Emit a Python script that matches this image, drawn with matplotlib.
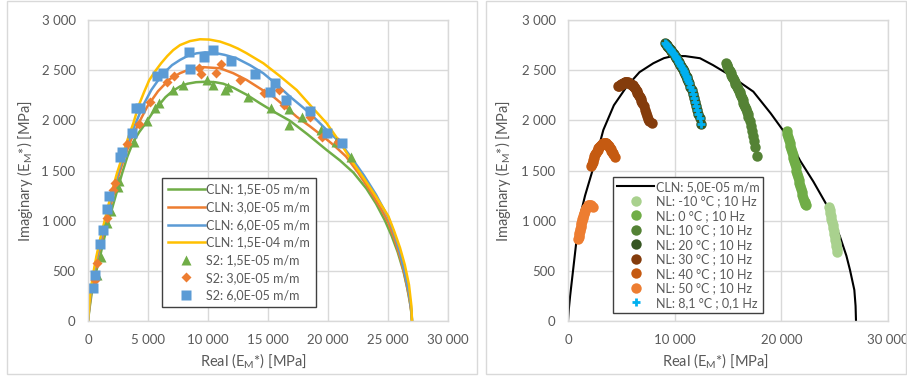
"""Cole-Cole plots (E* imaginary vs real), CLN model vs measurements"""
import matplotlib
matplotlib.use("Agg")
import matplotlib.pyplot as plt
from matplotlib.patches import Rectangle
from matplotlib.ticker import FuncFormatter

plt.rcParams['font.family'] = ['Lato', 'DejaVu Sans']
plt.rcParams['mathtext.default'] = 'regular'

# ---- left chart: CLN curves (real, imaginary) in MPa
cln15_re = [0, 120, 347, 650, 1000, 1300, 1667, 2050, 2444, 2850, 3278, 3750, 4250, 4806, 5350, 5900, 6450,
            7028, 7700, 8300, 9000, 9889, 10600, 11278, 12111, 13222, 14333, 15500, 16833, 18300, 19889,
            21000, 22111, 23200, 24000, 24750, 25300, 25800, 26278, 26600, 26850, 26970, 27000]
cln15_im = [0, 120, 309, 480, 641, 800, 974, 1140, 1306, 1475, 1638, 1780, 1880, 1971, 2070, 2150, 2230,
            2290, 2340, 2365, 2380, 2385, 2380, 2365, 2325, 2255, 2170, 2085, 1995, 1860, 1704,
            1600, 1480, 1320, 1170, 1000, 850, 690, 500, 330, 170, 60, 0]
cln30_re = [0, 100, 280, 520, 820, 1150, 1500, 1850, 2222, 2620, 3056, 3600, 4222, 4950, 5833, 6800, 7667,
            8600, 9611, 11000, 12100, 13222, 14300, 15444, 16400, 17389, 18500, 19611, 20500, 21500, 22500,
            23500, 24500, 25028, 25500, 26000, 26400, 26750, 26950, 27000]
cln30_im = [0, 120, 300, 470, 641, 810, 974, 1140, 1306, 1475, 1638, 1810, 1971, 2140, 2290, 2410, 2470,
            2515, 2530, 2519, 2470, 2402, 2320, 2236, 2140, 2036, 1940, 1837, 1750, 1640, 1480,
            1300, 1100, 980, 830, 640, 450, 250, 90, 0]
cln60_re = [0, 90, 250, 480, 750, 1060, 1400, 1750, 2111, 2510, 2944, 3430, 3972, 4600, 5278, 5850, 6400,
            7000, 7667, 8350, 9056, 9750, 10444, 11400, 12389, 13500, 14611, 15700, 16833, 18000, 19000,
            19889, 21000, 22000, 23000, 24000, 25028, 25500, 26000, 26400, 26750, 26960, 27000]
cln60_im = [0, 120, 300, 470, 641, 810, 974, 1140, 1306, 1475, 1638, 1810, 1971, 2150, 2303, 2400, 2480,
            2550, 2602, 2645, 2668, 2678, 2675, 2652, 2618, 2550, 2469, 2360, 2236, 2120, 2010,
            1904, 1780, 1620, 1450, 1260, 1030, 880, 680, 480, 280, 100, 0]
cln150_re = [0, 80, 222, 430, 694, 1000, 1333, 1670, 2028, 2420, 2861, 3300, 3778, 4200, 4667, 5100, 5600,
             6100, 6600, 7100, 7667, 8500, 9333, 10111, 11000, 11833, 12500, 13200, 14611, 16000, 17389,
             18600, 19889, 21000, 22111, 23000, 24000, 25028, 25500, 26000, 26400, 26750, 26950, 27000]
cln150_im = [0, 120, 309, 470, 641, 810, 974, 1140, 1306, 1475, 1638, 1810, 1971, 2140, 2280, 2400, 2490,
             2570, 2640, 2700, 2750, 2790, 2808, 2805, 2785, 2750, 2715, 2670, 2569, 2440, 2302,
             2140, 1971, 1780, 1572, 1420, 1240, 1045, 900, 730, 560, 360, 150, 0]

# ---- left chart: S2 measurements
s2_15_re = [778, 1056, 1611, 1889, 2528, 2583, 3833, 4944, 5583, 5944, 7111, 7944, 9917, 10389, 11417,
            11639, 13361, 15222, 16722, 16778, 17861, 19389, 20694, 21917]
s2_15_im = [458, 641, 974, 1096, 1339, 1399, 1787, 1993, 2126, 2170, 2302, 2352, 2402, 2352, 2302,
            2329, 2229, 2120, 1953, 2110, 2037, 1904, 1786, 1638]
s2_30_re = [583, 778, 1611, 2083, 2250, 3250, 4250, 5125, 6611, 7167, 9278, 9417, 10639, 11056, 12694,
            14694, 15917, 16333, 18500, 19472, 20833]
s2_30_im = [409, 578, 1030, 1305, 1380, 1768, 1965, 2180, 2385, 2442, 2525, 2462, 2475, 2565, 2402,
            2269, 2299, 2150, 2030, 1831, 1784]
s2_60_re = [417, 611, 972, 1278, 1611, 1778, 2639, 2806, 3667, 4028, 4306, 5778, 6278, 8500, 8389,
            9667, 10417, 11917, 13889, 15583, 15194, 16528, 18472, 19944, 21139]
s2_60_im = [333, 456, 768, 911, 1121, 1250, 1630, 1680, 1876, 2125, 2125, 2441, 2468, 2511, 2677,
            2634, 2700, 2591, 2461, 2368, 2278, 2198, 2092, 1870, 1771]

# ---- right chart: CLN 5,0E-05 curve
cln50_re = [0, 80, 200, 470, 750, 1034, 1600, 2219, 2800, 3313, 4300, 5500, 6700, 8000, 9000, 9875, 11000,
            12375, 13600, 14875, 16100, 17375, 19000, 20500, 21750, 23000, 24250, 25500, 26100, 26438,
            26844, 26960, 27000]
cln50_im = [0, 120, 250, 500, 760, 1000, 1250, 1472, 1700, 1904, 2150, 2336, 2480, 2569, 2620, 2642, 2640,
            2619, 2550, 2469, 2380, 2286, 2070, 1850, 1600, 1390, 1157, 840, 650, 508,
            309, 150, 0]

# ---- right chart: NL measurements
nl_m10_re = [24500, 24550, 24600, 24650, 24700, 24750, 24800, 24850, 24900, 24950, 25000, 25050, 25100,
             25150, 25200, 25250]
nl_m10_im = [1140, 1110, 1080, 1050, 1020, 990, 960, 930, 900, 870, 840, 810, 780, 750, 720, 690]
nl_0_re = [20500, 20570, 20640, 20710, 20780, 20850, 20920, 20990, 21060, 21130, 21200, 21270, 21340, 21410,
           21480, 21550, 21620, 21690, 21760, 21830, 21900, 21970, 22040, 22110, 22180, 22250, 22320]
nl_0_im = [1890, 1860, 1830, 1800, 1770, 1740, 1710, 1680, 1650, 1620, 1590, 1560, 1530, 1500,
           1470, 1440, 1410, 1380, 1350, 1320, 1290, 1260, 1230, 1200, 1185, 1170, 1160]
nl_10_re = [14810, 14880, 14950, 15020, 15100, 15170, 15250, 15320, 15400, 15480, 15550, 15620, 15700, 15780,
            15850, 15920, 16000, 16080, 16150, 16220, 16300, 16380, 16450, 16530, 16600, 16680, 16750, 16830,
            16900, 17020, 17130, 17230, 17330, 17420, 17530, 17750]
nl_10_im = [2570, 2555, 2540, 2522, 2505, 2488, 2470, 2452, 2435, 2418, 2400, 2382, 2365, 2348,
            2330, 2312, 2295, 2278, 2262, 2242, 2220, 2198, 2175, 2152, 2130, 2108, 2085, 2060,
            2035, 1990, 1940, 1890, 1840, 1790, 1738, 1645]
nl_20_re = [9100, 9170, 9250, 9320, 9400, 9470, 9550, 9620, 9700, 9770, 9850, 9920, 10000, 10080, 10150,
            10230, 10300, 10380, 10450, 10530, 10600, 10680, 10750, 10830, 10900, 10980, 11050, 11120,
            11200, 11280, 11350, 11480, 11600, 11720, 11830, 11930, 12030, 12130, 12230, 12330, 12470]
nl_20_im = [2768, 2759, 2750, 2740, 2730, 2720, 2710, 2700, 2690, 2680, 2668, 2657, 2645, 2632, 2620,
            2608, 2595, 2582, 2568, 2554, 2540, 2525, 2510, 2495, 2480, 2462, 2445, 2428,
            2410, 2390, 2370, 2335, 2300, 2260, 2220, 2180, 2140, 2100, 2060, 2020, 1965]
nl_30_re = [4700, 4780, 4850, 4930, 5000, 5080, 5150, 5230, 5300, 5380, 5450, 5530, 5600, 5680, 5750, 5830,
            5900, 5980, 6050, 6130, 6200, 6280, 6350, 6430, 6500, 6580, 6650, 6730, 6800, 6880, 6950, 7080,
            7200, 7320, 7430, 7530, 7620, 7840]
nl_30_im = [2340, 2346, 2352, 2357, 2362, 2367, 2372, 2375, 2378, 2379, 2380, 2379, 2378, 2374, 2370, 2365,
            2360, 2354, 2348, 2339, 2330, 2318, 2305, 2290, 2275, 2260, 2245, 2228, 2210, 2192, 2175, 2140,
            2105, 2075, 2045, 2015, 1995, 1970]
nl_40_re = [2200, 2250, 2300, 2360, 2420, 2480, 2550, 2620, 2700, 2770, 2850, 2920, 3000, 3080, 3150, 3230,
            3300, 3380, 3450, 3530, 3600, 3680, 3750, 3820, 3880, 3940, 4000, 4060, 4120, 4190, 4250, 4400]
nl_40_im = [1540, 1560, 1580, 1600, 1620, 1640, 1660, 1678, 1695, 1709, 1722, 1734, 1745, 1754, 1762, 1767,
            1772, 1774, 1775, 1773, 1770, 1763, 1755, 1745, 1735, 1722, 1710, 1698, 1685, 1672, 1660, 1638]
nl_50_re = [950, 985, 1020, 1060, 1100, 1140, 1180, 1220, 1260, 1300, 1340, 1385, 1430, 1480, 1530, 1585,
            1640, 1700, 1760, 1830, 1900, 1975, 2050, 2125, 2200, 2330]
nl_50_im = [820, 840, 860, 880, 900, 920, 940, 960, 980, 998, 1015, 1030, 1045, 1062, 1080, 1095,
            1110, 1122, 1135, 1145, 1155, 1157, 1158, 1155, 1150, 1140]
nl_81_re = [9100, 9170, 9250, 9320, 9400, 9470, 9550, 9620, 9700, 9770, 9850, 9920, 10000, 10080, 10150,
            10230, 10300, 10380, 10450, 10530, 10600, 10680, 10750, 10830, 10900, 10980, 11050, 11120,
            11200, 11280, 11350, 11480, 11600, 11720, 11830, 11930, 12030, 12130, 12230, 12330, 12470]
nl_81_im = [2768, 2759, 2750, 2740, 2730, 2720, 2710, 2700, 2690, 2680, 2668, 2657, 2645, 2632, 2620,
            2608, 2595, 2582, 2568, 2554, 2540, 2525, 2510, 2495, 2480, 2462, 2445, 2428,
            2410, 2390, 2370, 2335, 2300, 2260, 2220, 2180, 2140, 2100, 2060, 2020, 1965]

x_ticks_left = [0, 5000, 10000, 15000, 20000, 25000, 30000]
x_ticks_right = [0, 10000, 20000, 30000]
y_ticks = [0, 500, 1000, 1500, 2000, 2500, 3000]

TXT = '#595959'
GRID = '#D9D9D9'


def thousands(v, pos):
    return f"{int(v):,}".replace(',', ' ')


def style(ax, xticks):
    ax.set_xlim(0, 30000)
    ax.set_ylim(0, 3000)
    ax.set_xticks(xticks)
    ax.set_yticks(y_ticks)
    ax.xaxis.set_major_formatter(FuncFormatter(thousands))
    ax.yaxis.set_major_formatter(FuncFormatter(thousands))
    ax.grid(True, color=GRID, lw=1.0)
    ax.set_axisbelow(True)
    for s in ax.spines.values():
        s.set_color(GRID)
        s.set_linewidth(1.0)
    ax.tick_params(length=0, labelsize=9.5, labelcolor=TXT, pad=9)
    ax.set_xlabel('Real (E$_{M}$*) [MPa]', fontsize=10.5, color=TXT)
    ax.set_ylabel('Imaginary (E$_{M}$*) [MPa]', fontsize=10.5, color=TXT)


fig = plt.figure(figsize=(9.07, 3.78), dpi=100)

# panel frames
fig.patches.append(Rectangle((7 / 907, 4 / 378), 470 / 907, 373 / 378, transform=fig.transFigure,
                             fill=False, edgecolor=GRID, lw=1.0))
fig.patches.append(Rectangle((486 / 907, 4 / 378), 420 / 907, 373 / 378, transform=fig.transFigure,
                             fill=False, edgecolor=GRID, lw=1.0))

# left chart
ax1 = fig.add_axes([88 / 907, 57 / 378, 360 / 907, 301 / 378])
style(ax1, x_ticks_left)
ax1.plot(cln15_re, cln15_im, color='#70AD47', lw=1.8, label='CLN: 1,5E-05 m/m')
ax1.plot(cln30_re, cln30_im, color='#ED7D31', lw=1.8, label='CLN: 3,0E-05 m/m')
ax1.plot(cln60_re, cln60_im, color='#5B9BD5', lw=1.8, label='CLN: 6,0E-05 m/m')
ax1.plot(cln150_re, cln150_im, color='#FFC000', lw=1.8, label='CLN: 1,5E-04 m/m')
ax1.plot(s2_15_re, s2_15_im, '^', color='#70AD47', ms=7, mec='none', label='S2: 1,5E-05 m/m')
ax1.plot(s2_30_re, s2_30_im, 'D', color='#ED7D31', ms=5.5, mec='none', label='S2: 3,0E-05 m/m')
ax1.plot(s2_60_re, s2_60_im, 's', color='#5B9BD5', ms=7, mec='none', label='S2: 6,0E-05 m/m')
ax1.xaxis.set_label_coords(0.46, -0.1)
ax1.yaxis.set_label_coords(-0.147, 0.5)
leg1 = ax1.legend(loc='upper left', bbox_to_anchor=(162 / 907, 1 - 178 / 378),
                  bbox_transform=fig.transFigure, borderaxespad=0, fontsize=9,
                  labelspacing=0.45, handlelength=3.0, handletextpad=0.1, borderpad=0.45,
                  fancybox=False, framealpha=1, edgecolor='#404040')
leg1.get_frame().set_linewidth(1.0)
for t in leg1.get_texts():
    t.set_color(TXT)

# right chart
ax2 = fig.add_axes([568 / 907, 57 / 378, 320 / 907, 301 / 378])
style(ax2, x_ticks_right)
ax2.plot(cln50_re, cln50_im, color='black', lw=1.5, label='CLN: 5,0E-05 m/m', zorder=2)
ms = 7.5
ax2.plot(nl_m10_re, nl_m10_im, 'o', color='#A9D18E', ms=ms, mec='none', label='NL: -10 °C ; 10 Hz', zorder=3)
ax2.plot(nl_0_re, nl_0_im, 'o', color='#70AD47', ms=ms, mec='none', label='NL: 0 °C ; 10 Hz', zorder=3)
ax2.plot(nl_10_re, nl_10_im, 'o', color='#548235', ms=ms, mec='none', label='NL: 10 °C ; 10 Hz', zorder=3)
ax2.plot(nl_20_re, nl_20_im, 'o', color='#375623', ms=ms, mec='none', label='NL: 20 °C ; 10 Hz', zorder=3)
ax2.plot(nl_30_re, nl_30_im, 'o', color='#843C0C', ms=ms, mec='none', label='NL: 30 °C ; 10 Hz', zorder=3)
ax2.plot(nl_40_re, nl_40_im, 'o', color='#C55A11', ms=ms, mec='none', label='NL: 40 °C ; 10 Hz', zorder=3)
ax2.plot(nl_50_re, nl_50_im, 'o', color='#ED7D31', ms=ms, mec='none', label='NL: 50 °C ; 10 Hz', zorder=3)
ax2.plot(nl_81_re, nl_81_im, '+', color='#00B0F0', ms=6, mew=2, label='NL: 8,1 °C ; 0,1 Hz', zorder=4)
ax2.xaxis.set_label_coords(0.461, -0.1)
ax2.yaxis.set_label_coords(-0.172, 0.5)
leg2 = ax2.legend(loc='upper left', bbox_to_anchor=(613 / 907, 1 - 177 / 378),
                  bbox_transform=fig.transFigure, borderaxespad=0, fontsize=9,
                  labelspacing=0.2, handlelength=3.0, handletextpad=0.1, borderpad=0.3,
                  fancybox=False, framealpha=1, edgecolor='#404040')
leg2.get_frame().set_linewidth(1.0)
for t in leg2.get_texts():
    t.set_color(TXT)

fig.savefig('out.png', dpi=100)
